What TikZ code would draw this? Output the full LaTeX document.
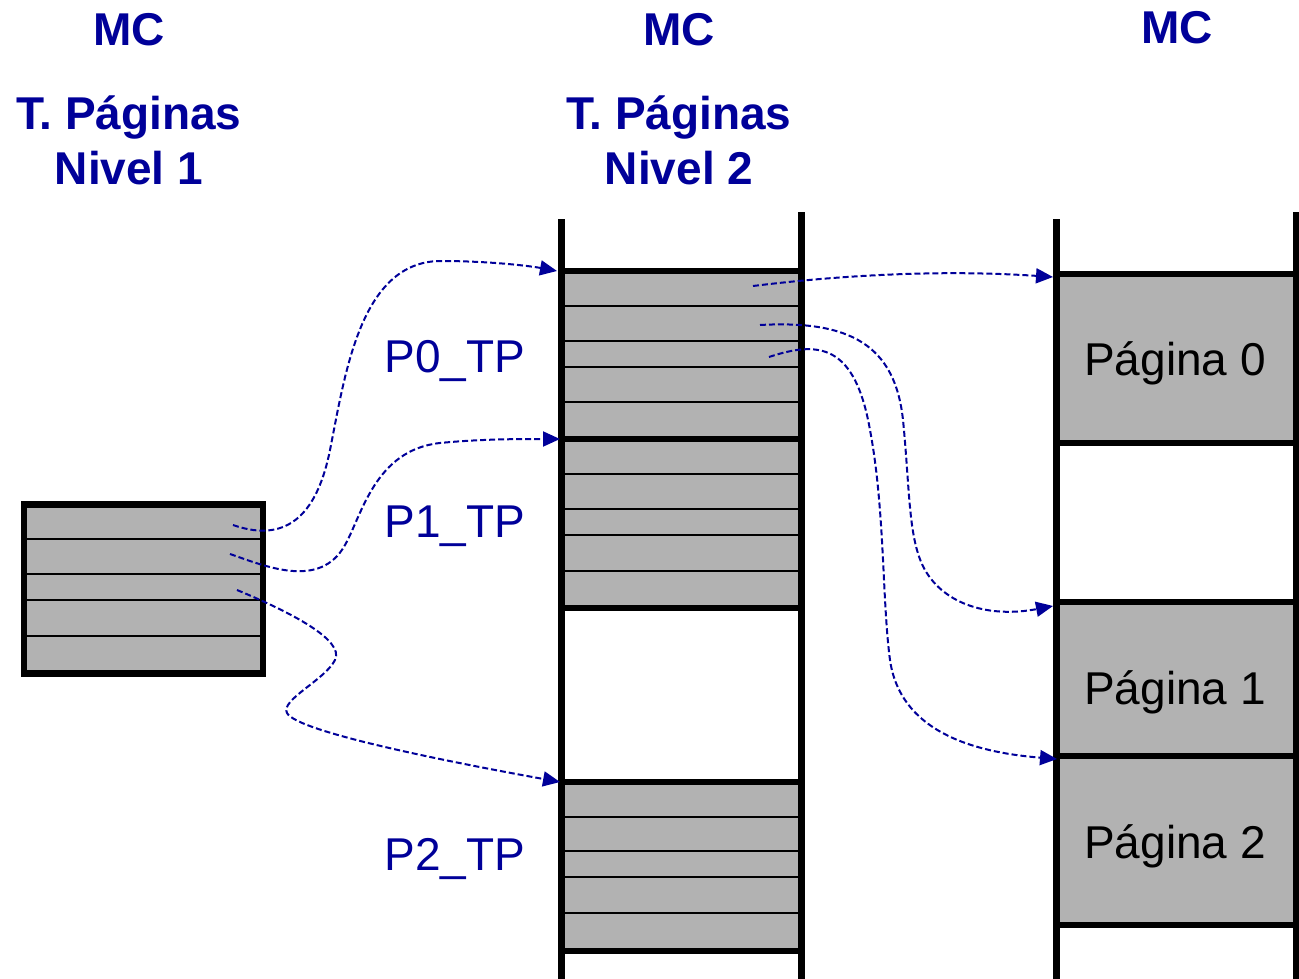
\documentclass[tikz,border=0pt]{standalone}
\usepackage{fontspec}
\setmainfont{Liberation Sans}
\usetikzlibrary{arrows.meta}
\definecolor{tblue}{RGB}{0,0,153}
\definecolor{cellgray}{RGB}{178,178,178}
\begin{document}
\begin{tikzpicture}[x=1pt,y=-1pt,
  head/.style={text=tblue,font=\fontsize{46}{55}\selectfont\bfseries,inner sep=0pt,anchor=base},
  lbl/.style={text=tblue,font=\fontsize{46}{55}\selectfont,inner sep=0pt,anchor=base},
  pg/.style={text=black,font=\fontsize{46}{55}\selectfont,inner sep=0pt,anchor=base},
  cellfill/.style={fill=cellgray},
  rowline/.style={line width=2.7pt},
  bordline/.style={line width=6pt},
  postline/.style={line width=7pt},
  link/.style={draw=tblue,line width=2pt,dash pattern=on 6pt off 3pt,-{Triangle[length=17pt,width=15pt]}}
]
\path[use as bounding box] (0,0) rectangle (1299,979);
\clip (0,0) rectangle (1299,979);

% headings
\node[head] (mc1) at (129,46) {MC};
\node[head] (mc2) at (679,46) {MC};
\node[head] (mc3) at (1177,44) {MC};
\node[head] (tpa1) at (129,130) {T. Páginas};
\node[head] (tpb1) at (129,185) {Nivel 1};
\node[head] (tpa2) at (679,130) {T. Páginas};
\node[head] (tpb2) at (679,185) {Nivel 2};

% left table (level 1)
\fill[cellfill] (24,504.5) rectangle (263,673.5);
\foreach \yy in {539,574,600,636} \draw[rowline] (24,\yy) -- (263,\yy);
\draw[line width=6.5pt] (24,504.5) rectangle (263,673.5);

% middle column (level 2 tables)
\fill[cellfill] (561,271) rectangle (801,608);
\fill[cellfill] (561,782) rectangle (801,951);
\foreach \yy in {306,341,367,402,474,509,535,571,817,851,877,913}
  \draw[rowline] (561,\yy) -- (801,\yy);
\foreach \yy in {271,439,608,782,951}
  \draw[bordline] (561,\yy) -- (801,\yy);
\draw[postline] (561,219) -- (561,985);
\draw[postline] (801,212) -- (801,985);

% right column (pages)
\fill[cellfill] (1056,273.5) rectangle (1296,442.5);
\fill[cellfill] (1056,602) rectangle (1296,925);
\foreach \yy in {273.5,442.5,602,756,925}
  \draw[bordline] (1056,\yy) -- (1296,\yy);
\draw[postline] (1056,219) -- (1056,985);
\draw[postline] (1296,212) -- (1296,985);

% labels
\node[lbl] (p0) at (455,372) {P0\_TP};
\node[lbl] (p1) at (455,537) {P1\_TP};
\node[lbl] (p2) at (455,870) {P2\_TP};
\node[pg] (g0) at (1175,375) {Página 0};
\node[pg] (g1) at (1175,704) {Página 1};
\node[pg] (g2) at (1175,858) {Página 2};

% connector end points
\coordinate (s1) at (233,525);
\coordinate (s2) at (230,554);
\coordinate (s3) at (237,590);
\coordinate (e1) at (557,271);
\coordinate (e2) at (560,439);
\coordinate (e3) at (560,782);
\coordinate (s4) at (753,286);
\coordinate (s5) at (760,325);
\coordinate (s6) at (769,357);
\coordinate (e4) at (1053,277);
\coordinate (e5) at (1053,606);
\coordinate (e6) at (1057,759);

% connectors
\draw[link] (s1) .. controls (290,545) and (318,510) .. (330,450)
  .. controls (345,375) and (360,262) .. (440,261)
  .. controls (490,261) and (530,266) .. (e1);
\draw[link] (s2) .. controls (265,566) and (320,590) .. (345,545)
  .. controls (362,515) and (375,450) .. (440,443)
  .. controls (480,439) and (520,439) .. (e2);
\draw[link] (s3) .. controls (290,612) and (345,640) .. (335,660)
  .. controls (325,680) and (280,700) .. (287,713)
  .. controls (297,732) and (450,762) .. (e3);
\draw[link] (s4) .. controls (850,274) and (950,270) .. (e4);
\draw[link] (s5) .. controls (850,320) and (895,345) .. (903,420)
  .. controls (910,490) and (908,540) .. (925,570)
  .. controls (945,605) and (990,618) .. (e5);
\draw[link] (s6) .. controls (820,340) and (855,345) .. (870,430)
  .. controls (885,510) and (882,600) .. (890,660)
  .. controls (900,730) and (970,752) .. (e6);
\end{tikzpicture}
\end{document}
